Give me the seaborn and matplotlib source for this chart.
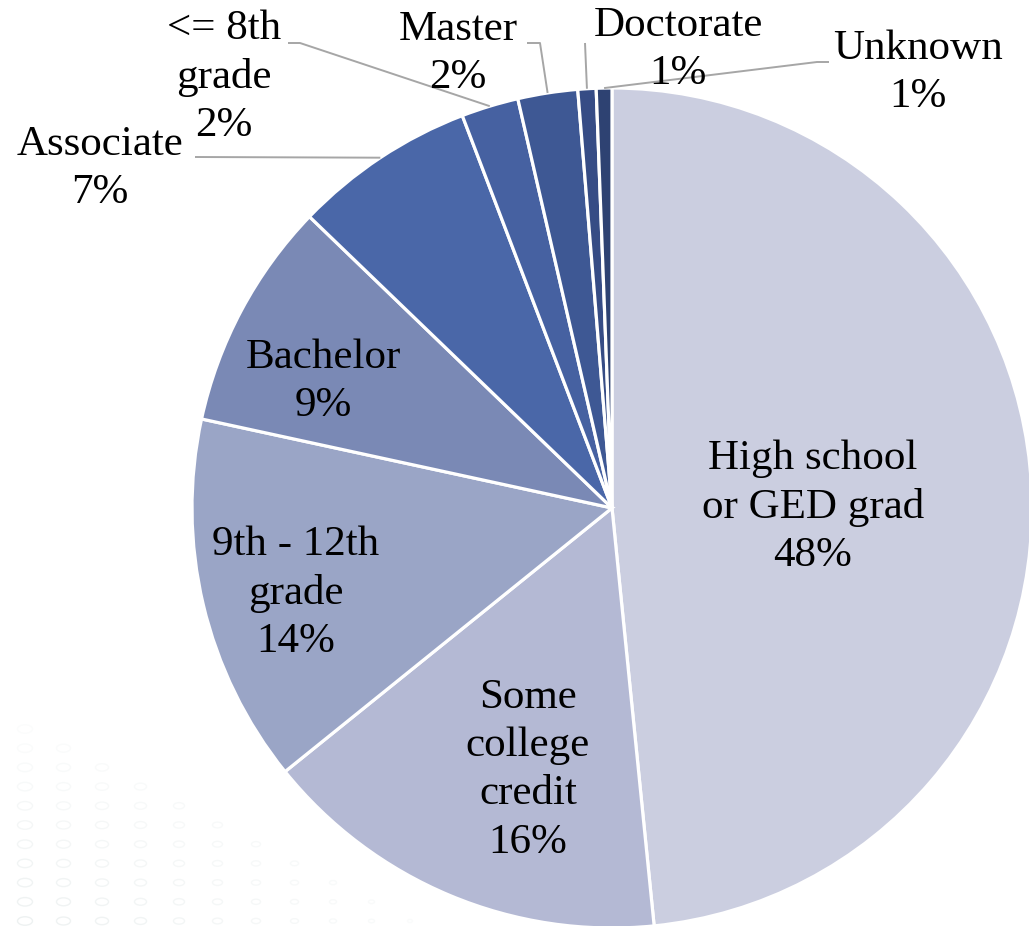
import numpy as np
import matplotlib
matplotlib.use("Agg")
import matplotlib.pyplot as plt
import seaborn as sns

# Educational attainment shares (percent)
categories = [
    "High school\nor GED grad",
    "Some\ncollege\ncredit",
    "9th - 12th\ngrade",
    "Bachelor",
    "Associate",
    "<= 8th\ngrade",
    "Master",
    "Doctorate",
    "Unknown",
]
shares = [48.4, 15.8, 14.2, 8.8, 7.0, 2.2, 2.3, 0.7, 0.6]
slice_colors = ["#CBCEE0", "#B4B9D4", "#9AA5C6", "#7A89B5", "#4A67A8",
                "#4661A1", "#3E5894", "#364C85", "#2E4272"]

sns.set_theme(style="white")
plt.rcParams["font.family"] = ["Liberation Serif", "DejaVu Serif"]

W, H = 1029, 926
CX, CY, R = 612, 508, 420          # pie centre and radius in pixels


def to_data(px, py):
    return (px - CX) / R, (CY - py) / R


fig = plt.figure(figsize=(W / 100, H / 100), dpi=100)
ax = fig.add_axes([0, 0, 1, 1])

palette = sns.color_palette(slice_colors)
wedges, _ = ax.pie(
    shares, startangle=90, counterclock=False, colors=palette,
    radius=1, center=(0, 0),
    wedgeprops=dict(edgecolor="white", linewidth=2.3),
)

ax.set_xlim(-CX / R, (W - CX) / R)
ax.set_ylim(-(H - CY) / R, CY / R)
ax.set_aspect("equal")
ax.axis("off")

# faint dotted texture in the lower-left corner
for row in range(11):
    py = 729 + row * 19.2
    for col in range(row + 1):
        px = 25 + col * 38.5
        fade = 1 - col / 11
        ax.add_patch(matplotlib.patches.Ellipse(
            to_data(px, py), (11 * fade + 4) / R, (6 * fade + 2.5) / R,
            facecolor="none", edgecolor="#a9bcbc",
            alpha=0.04 + 0.16 * fade * (row / 10), lw=1.0, zorder=0))

pct = [f"{int(np.floor(v + 0.5))}%" for v in shares]

# label centres (pixels) and leader-line bend points from label to slice
label_pos = [(813, 507), (528, 770), (296, 593), (323, 382), (100, 169),
             (224, 77), (458, 54), (678, 50), (918, 73)]
leader_start = [None, None, None, None, [(195, 157)],
                [(288, 43), (300, 43)], [(527, 43), (540, 43)],
                [(585, 43)], [(829, 62), (817, 62)]]

for i, (w, name) in enumerate(zip(wedges, categories)):
    x, y = to_data(*label_pos[i])
    ax.text(x, y, f"{name}\n{pct[i]}", ha="center", va="center",
            fontsize=31, color="black", linespacing=1.33, zorder=5)
    if leader_start[i] is not None:
        mid = np.deg2rad((w.theta1 + w.theta2) / 2)
        end = (np.cos(mid), np.sin(mid))
        pts = [to_data(*p) for p in leader_start[i]] + [end]
        xs, ys = zip(*pts)
        ax.plot(xs, ys, color="#A6A6A6", lw=1.4, zorder=4,
                solid_capstyle="butt")

fig.savefig("out.png", dpi=100, facecolor="white")
